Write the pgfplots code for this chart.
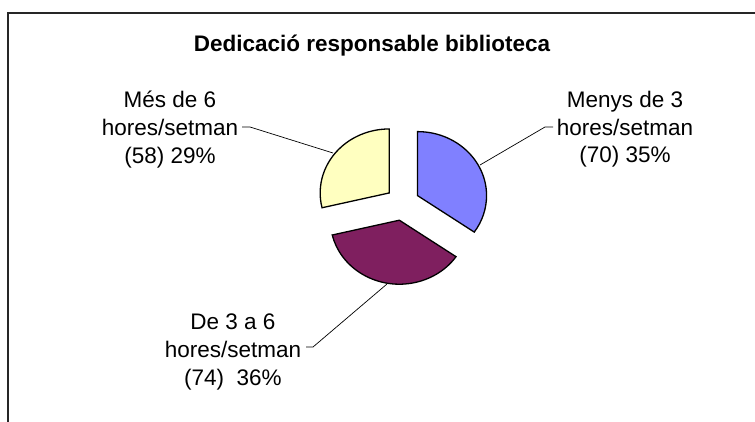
\documentclass[border=0pt]{standalone}
\usepackage{fontspec}
\setmainfont{Liberation Sans}
\usepackage{pgfplots}
\usepackage{pgfplotstable}
\pgfplotsset{compat=1.18}
\definecolor{sliceA}{HTML}{8080FF}
\definecolor{sliceB}{HTML}{7F1F5F}
\definecolor{sliceC}{HTML}{FFFFC0}
\pgfplotstableread{
label value
A 70
B 74
C 58
}\piedata
\pgfplotstablegetelem{0}{value}\of\piedata \let\va\pgfplotsretval
\pgfplotstablegetelem{1}{value}\of\piedata \let\vb\pgfplotsretval
\pgfplotstablegetelem{2}{value}\of\piedata \let\vc\pgfplotsretval
\pgfmathsetmacro\total{\va+\vb+\vc}
\pgfmathsetmacro\angS{90}
\pgfmathsetmacro\angA{90-360*(\va/\total)}
\pgfmathsetmacro\angB{\angA-360*(\vb/\total)}
\pgfmathsetmacro\angC{\angB-360*(\vc/\total)}
\newcommand\slice[3]{%
  \filldraw[fill=#3, draw=black, line width=1.3bp, shift={({(#1+#2)/2}:17bp)}]
    (axis cs:402.5,203.5) -- ++(#1:69bp and 64bp)
    arc[start angle=#1, end angle=#2, x radius=69bp, y radius=64bp] -- cycle;}
\begin{document}
\begin{tikzpicture}
\begin{axis}[
  at={(0,0)}, anchor=south west,
  width=755bp, height=422bp, scale only axis,
  xmin=0, xmax=755, ymin=0, ymax=422, y dir=reverse,
  axis lines=none, ticks=none,
]
\draw[line width=1.6bp, black!85] (axis cs:8,430) -- (axis cs:8,13) -- (axis cs:760,13);
\node[anchor=base, font=\bfseries\fontsize{22.5bp}{27bp}\selectfont] at (axis cs:372,52) {Dedicació responsable biblioteca};
\slice{\angS}{\angA}{sliceA}
\slice{\angA}{\angB}{sliceB}
\slice{\angB}{\angC}{sliceC}
% leader lines
\draw[line width=0.7bp] (axis cs:242,127) -- (axis cs:250,127) -- (axis cs:333,153);
\draw[line width=0.7bp] (axis cs:480,165) -- (axis cs:545,127) -- (axis cs:553,127);
\draw[line width=0.7bp] (axis cs:387,284) -- (axis cs:313,347) -- (axis cs:306,347);
% labels
\begin{scope}[every node/.style={anchor=base, font=\fontsize{22.5bp}{27bp}\selectfont, inner sep=0pt}]
\node at (axis cs:170,107) {Més de 6};
\node at (axis cs:170,135) {hores/setman};
\node at (axis cs:170,163) {(58) 29\%};
\node at (axis cs:625,107) {Menys de 3};
\node at (axis cs:625,135) {hores/setman};
\node at (axis cs:625,162) {(70) 35\%};
\node at (axis cs:233,329) {De 3 a 6};
\node at (axis cs:233,357) {hores/setman};
\node at (axis cs:233,385) {(74)\ \ 36\%};
\end{scope}
\end{axis}
\pgfresetboundingbox
\path[use as bounding box] (0,0) rectangle (755bp,422bp);
\end{tikzpicture}
\end{document}
